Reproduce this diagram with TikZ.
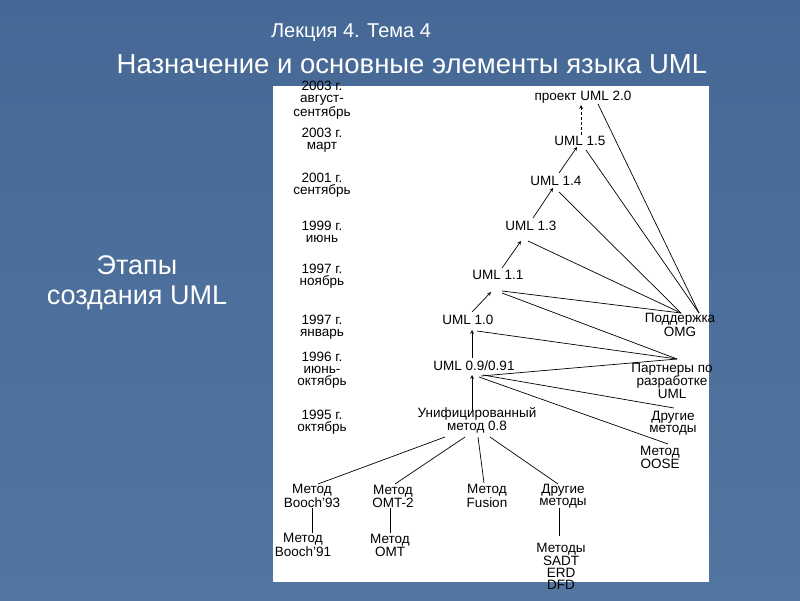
\documentclass[tikz,border=0pt]{standalone}
\usepackage{fontspec}
\setmainfont{Liberation Sans}
\begin{document}
\begin{tikzpicture}[x=1pt,y=-1pt,
  lbl/.style={font=\fontsize{13.5}{12}\selectfont, align=center, inner sep=1pt},
  ar/.style={->, >=stealth, line width=0.7pt},
  ln/.style={line width=0.7pt}]
\shade[top color={rgb,255:red,70;green,104;blue,150}, bottom color={rgb,255:red,82;green,118;blue,160}] (0,0) rectangle (800,600);
\useasboundingbox (0,0) rectangle (800,600);
\fill[white] (273,86) rectangle (709,582);
\node[white, font=\fontsize{20}{22}\selectfont] (lec) at (351,33) {Лекция 4. Тема 4};
\node[white, font=\fontsize{27.5}{30}\selectfont] (ttl) at (412,64) {Назначение и основные элементы языка UML};
\node[white, align=center, font=\fontsize{27}{30}\selectfont] (stg) at (137,283) {Этапы\\создания UML};
% years
\node[lbl] (y1) at (322,100) {2003 г.\\август-\\сентябрь};
\node[lbl] (y2) at (322,140) {2003 г.\\март};
\node[lbl] (y3) at (322,185) {2001 г.\\сентябрь};
\node[lbl] (y4) at (322,232) {1999 г.\\июнь};
\node[lbl] (y5) at (322,276) {1997 г.\\ноябрь};
\node[lbl] (y6) at (322,327) {1997 г.\\январь};
\node[lbl] (y7) at (322,370) {1996 г.\\июнь-\\октябрь};
\node[lbl] (y8) at (322,422) {1995 г.\\октябрь};
% tree
\node[lbl] (u20) at (583,97) {проект UML 2.0};
\node[lbl] (u15) at (580,141) {UML 1.5};
\node[lbl] (u14) at (556,181) {UML 1.4};
\node[lbl] (u13) at (531,226) {UML 1.3};
\node[lbl] (u11) at (498,275) {UML 1.1};
\node[lbl] (u10) at (468,320) {UML 1.0};
\node[lbl] (u09) at (474,366) {UML 0.9/0.91};
\node[lbl] (u08) at (477,420) {Унифицированный\\метод 0.8};
\node[lbl] (omg) at (680,325) {Поддержка\\OMG};
\node[lbl] (prt) at (672,381) {Партнеры по\\разработке\\UML};
\node[lbl] (oth) at (673,423) {Другие\\методы};
\node[lbl] (oos) at (660,457) {Метод\\OOSE};
\node[lbl] (b93) at (312,496) {Метод\\Booch'93};
\node[lbl] (o2) at (393,496) {Метод\\OMT-2};
\node[lbl] (fus) at (487,496) {Метод\\Fusion};
\node[lbl] (dm) at (563,496) {Другие\\методы};
\node[lbl] (b91) at (303,545) {Метод\\Booch'91};
\node[lbl] (omt) at (390,545) {Метод\\OMT};
\node[lbl] (sad) at (561,566) {Методы\\SADT\\ERD\\DFD};
% arrows up
\draw[ar, densely dashed] (581,135) -- (581,105);
\draw[ar] (559,173) -- (577,147);
\draw[ar] (533,218) -- (553,188);
\draw[ar] (502,268) -- (521,241);
\draw[ar] (472,312) -- (491,292);
\draw[ar] (472,358) -- (472,330);
\draw[ar] (472,410) -- (472,375);
% OMG lines
\coordinate (om) at (699,313);
\coordinate (om2) at (681,313);
\draw[ln] (om) -- (598,104);
\draw[ln] (om) -- (586,150);
\draw[ln] (om2) -- (559,192);
\draw[ln] (om2) -- (528,241);
\draw[ln] (om2) -- (502,291);
% partners
\coordinate (pp) at (677,359);
\draw[ln] (pp) -- (502,293);
\draw[ln] (pp) -- (477,331);
\draw[ln] (pp) -- (481,376);
\draw[ln] (674,408) -- (483,375);
\draw[ln] (668,444) -- (479,377);
% lower
\draw[ln] (318,484) -- (445,437);
\draw[ln] (395,484) -- (465,437);
\draw[ln] (484,483) -- (478,437);
\draw[ln] (558,484) -- (490,437);
\draw[ln] (312,508) -- (312,533);
\draw[ln] (390,508) -- (390,533);
\draw[ln] (559,508) -- (559,536);
\end{tikzpicture}
\end{document}
